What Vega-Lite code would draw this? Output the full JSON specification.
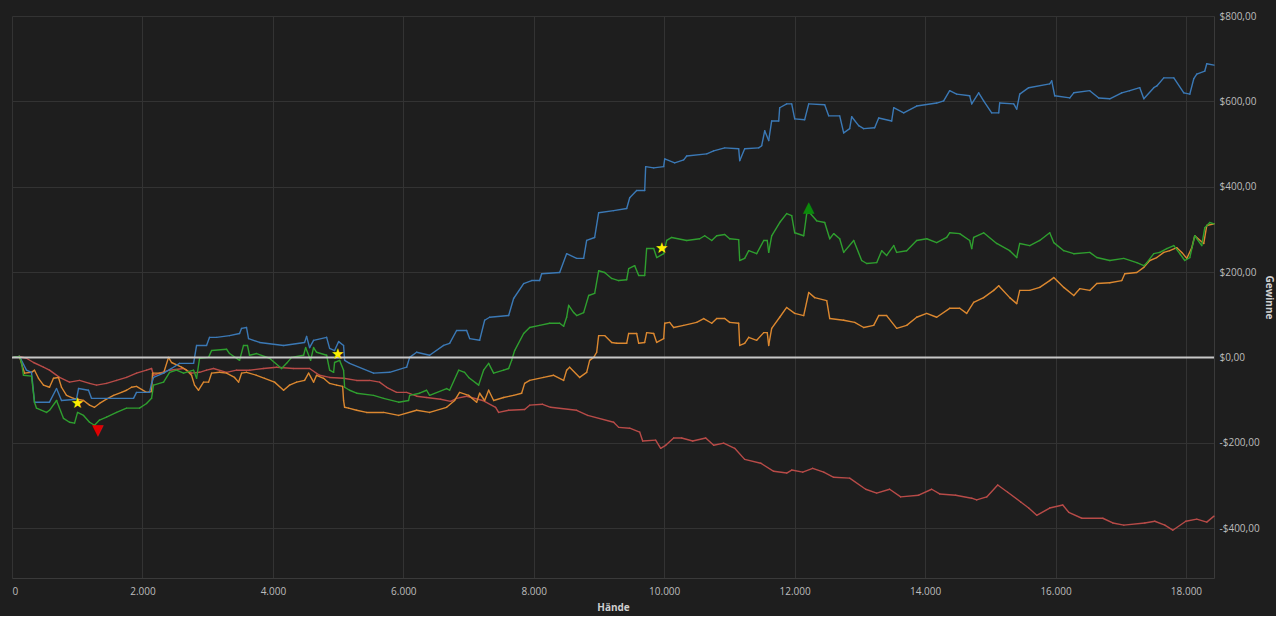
{
"$schema": "https://vega.github.io/schema/vega-lite/v6.json",
"width": 1202,
"height": 562,
"padding": {"left": 11, "top": 11, "right": 2, "bottom": 4},
"background": "#1e1e1e",
"config": {
  "view": {"stroke": null},
  "axis": {"labelColor": "#bdbdbd", "labelFont": "Open Sans", "labelFontSize": 10, "titleColor": "#cfcfcf", "titleFont": "Open Sans", "titleFontSize": 10, "titleFontWeight": "bold", "gridColor": "#333333", "domainColor": "#3a3a3a", "ticks": false}
},
"datasets": {
"pts": [
{"k":"1","h":23,"w":0},{"k":"1","h":115,"w":2},{"k":"1","h":222,"w":-2},{"k":"1","h":330,"w":-12},{"k":"1","h":483,"w":-23},{"k":"1","h":575,"w":-30},{"k":"1","h":729,"w":-47},{"k":"1","h":882,"w":-58},{"k":"1","h":1035,"w":-54},{"k":"1","h":1189,"w":-61},{"k":"1","h":1296,"w":-65},{"k":"1","h":1449,"w":-61},{"k":"1","h":1603,"w":-54},{"k":"1","h":1756,"w":-47},{"k":"1","h":1909,"w":-37},{"k":"1","h":2063,"w":-30},{"k":"1","h":2140,"w":-26},{"k":"1","h":2170,"w":-42},{"k":"1","h":2262,"w":-37},{"k":"1","h":2416,"w":-30},{"k":"1","h":2630,"w":-26},{"k":"1","h":2753,"w":-37},{"k":"1","h":2876,"w":-35},{"k":"1","h":2983,"w":-30},{"k":"1","h":3090,"w":-26},{"k":"1","h":3290,"w":-35},{"k":"1","h":3443,"w":-30},{"k":"1","h":3642,"w":-30},{"k":"1","h":3857,"w":-26},{"k":"1","h":4057,"w":-23},{"k":"1","h":4317,"w":-26},{"k":"1","h":4563,"w":-26},{"k":"1","h":4716,"w":-42},{"k":"1","h":4870,"w":-47},{"k":"1","h":5084,"w":-49},{"k":"1","h":5284,"w":-54},{"k":"1","h":5483,"w":-54},{"k":"1","h":5636,"w":-58},{"k":"1","h":5744,"w":-70},{"k":"1","h":5897,"w":-82},{"k":"1","h":6051,"w":-82},{"k":"1","h":6204,"w":-91},{"k":"1","h":6357,"w":-94},{"k":"1","h":6572,"w":-98},{"k":"1","h":6725,"w":-103},{"k":"1","h":6817,"w":-96},{"k":"1","h":6971,"w":-91},{"k":"1","h":7216,"w":-101},{"k":"1","h":7415,"w":-117},{"k":"1","h":7461,"w":-129},{"k":"1","h":7615,"w":-124},{"k":"1","h":7860,"w":-122},{"k":"1","h":7937,"w":-112},{"k":"1","h":8136,"w":-110},{"k":"1","h":8259,"w":-117},{"k":"1","h":8658,"w":-124},{"k":"1","h":8827,"w":-136},{"k":"1","h":9225,"w":-152},{"k":"1","h":9302,"w":-164},{"k":"1","h":9471,"w":-166},{"k":"1","h":9624,"w":-175},{"k":"1","h":9670,"w":-196},{"k":"1","h":9869,"w":-194},{"k":"1","h":9946,"w":-213},{"k":"1","h":10023,"w":-206},{"k":"1","h":10145,"w":-189},{"k":"1","h":10268,"w":-189},{"k":"1","h":10437,"w":-196},{"k":"1","h":10637,"w":-189},{"k":"1","h":10759,"w":-206},{"k":"1","h":10912,"w":-201},{"k":"1","h":11081,"w":-213},{"k":"1","h":11234,"w":-239},{"k":"1","h":11480,"w":-248},{"k":"1","h":11679,"w":-267},{"k":"1","h":11878,"w":-271},{"k":"1","h":11955,"w":-264},{"k":"1","h":12124,"w":-269},{"k":"1","h":12277,"w":-260},{"k":"1","h":12446,"w":-269},{"k":"1","h":12599,"w":-281},{"k":"1","h":12844,"w":-283},{"k":"1","h":13089,"w":-309},{"k":"1","h":13258,"w":-318},{"k":"1","h":13457,"w":-309},{"k":"1","h":13626,"w":-327},{"k":"1","h":13902,"w":-323},{"k":"1","h":14101,"w":-309},{"k":"1","h":14224,"w":-320},{"k":"1","h":14469,"w":-323},{"k":"1","h":14715,"w":-330},{"k":"1","h":14791,"w":-334},{"k":"1","h":14945,"w":-327},{"k":"1","h":15114,"w":-299},{"k":"1","h":15267,"w":-316},{"k":"1","h":15467,"w":-339},{"k":"1","h":15589,"w":-353},{"k":"1","h":15712,"w":-370},{"k":"1","h":15911,"w":-353},{"k":"1","h":16111,"w":-346},{"k":"1","h":16203,"w":-363},{"k":"1","h":16403,"w":-377},{"k":"1","h":16725,"w":-377},{"k":"1","h":16878,"w":-388},{"k":"1","h":17047,"w":-393},{"k":"1","h":17369,"w":-388},{"k":"1","h":17522,"w":-384},{"k":"1","h":17676,"w":-393},{"k":"1","h":17798,"w":-405},{"k":"1","h":17998,"w":-384},{"k":"1","h":18166,"w":-379},{"k":"1","h":18319,"w":-386},{"k":"1","h":18430,"w":-372},
{"k":"2","h":23,"w":0},{"k":"2","h":115,"w":2},{"k":"2","h":146,"w":-14},{"k":"2","h":192,"w":-37},{"k":"2","h":299,"w":-35},{"k":"2","h":345,"w":-30},{"k":"2","h":406,"w":-49},{"k":"2","h":483,"w":-65},{"k":"2","h":575,"w":-70},{"k":"2","h":636,"w":-49},{"k":"2","h":713,"w":-47},{"k":"2","h":759,"w":-70},{"k":"2","h":836,"w":-89},{"k":"2","h":943,"w":-96},{"k":"2","h":1097,"w":-101},{"k":"2","h":1189,"w":-112},{"k":"2","h":1265,"w":-117},{"k":"2","h":1342,"w":-108},{"k":"2","h":1449,"w":-98},{"k":"2","h":1557,"w":-89},{"k":"2","h":1679,"w":-82},{"k":"2","h":1756,"w":-77},{"k":"2","h":1833,"w":-70},{"k":"2","h":1909,"w":-68},{"k":"2","h":2063,"w":-82},{"k":"2","h":2140,"w":-80},{"k":"2","h":2155,"w":-37},{"k":"2","h":2324,"w":-37},{"k":"2","h":2400,"w":0},{"k":"2","h":2446,"w":-12},{"k":"2","h":2600,"w":-23},{"k":"2","h":2676,"w":-30},{"k":"2","h":2753,"w":-42},{"k":"2","h":2799,"w":-65},{"k":"2","h":2860,"w":-77},{"k":"2","h":2937,"w":-58},{"k":"2","h":3014,"w":-58},{"k":"2","h":3060,"w":-37},{"k":"2","h":3182,"w":-35},{"k":"2","h":3290,"w":-37},{"k":"2","h":3412,"w":-47},{"k":"2","h":3474,"w":-58},{"k":"2","h":3520,"w":-37},{"k":"2","h":3596,"w":-35},{"k":"2","h":3750,"w":-42},{"k":"2","h":3873,"w":-49},{"k":"2","h":4026,"w":-58},{"k":"2","h":4164,"w":-77},{"k":"2","h":4256,"w":-65},{"k":"2","h":4364,"w":-58},{"k":"2","h":4486,"w":-54},{"k":"2","h":4548,"w":-37},{"k":"2","h":4624,"w":-58},{"k":"2","h":4670,"w":-42},{"k":"2","h":4778,"w":-49},{"k":"2","h":4870,"w":-61},{"k":"2","h":4977,"w":-65},{"k":"2","h":5070,"w":-68},{"k":"2","h":5084,"w":-101},{"k":"2","h":5100,"w":-117},{"k":"2","h":5161,"w":-119},{"k":"2","h":5284,"w":-124},{"k":"2","h":5437,"w":-129},{"k":"2","h":5698,"w":-129},{"k":"2","h":5928,"w":-136},{"k":"2","h":6204,"w":-124},{"k":"2","h":6403,"w":-129},{"k":"2","h":6664,"w":-117},{"k":"2","h":6787,"w":-101},{"k":"2","h":6863,"w":-82},{"k":"2","h":7002,"w":-89},{"k":"2","h":7124,"w":-105},{"k":"2","h":7170,"w":-84},{"k":"2","h":7247,"w":-101},{"k":"2","h":7308,"w":-77},{"k":"2","h":7385,"w":-101},{"k":"2","h":7538,"w":-94},{"k":"2","h":7691,"w":-89},{"k":"2","h":7814,"w":-84},{"k":"2","h":7860,"w":-61},{"k":"2","h":7937,"w":-54},{"k":"2","h":8152,"w":-47},{"k":"2","h":8305,"w":-42},{"k":"2","h":8458,"w":-54},{"k":"2","h":8504,"w":-30},{"k":"2","h":8550,"w":-23},{"k":"2","h":8704,"w":-47},{"k":"2","h":8811,"w":-35},{"k":"2","h":8857,"w":-7},{"k":"2","h":8919,"w":0},{"k":"2","h":8965,"w":12},{"k":"2","h":8995,"w":51},{"k":"2","h":9087,"w":51},{"k":"2","h":9195,"w":35},{"k":"2","h":9271,"w":33},{"k":"2","h":9425,"w":33},{"k":"2","h":9455,"w":56},{"k":"2","h":9578,"w":56},{"k":"2","h":9609,"w":33},{"k":"2","h":9701,"w":35},{"k":"2","h":9731,"w":58},{"k":"2","h":9839,"w":56},{"k":"2","h":9885,"w":35},{"k":"2","h":9992,"w":44},{"k":"2","h":10008,"w":80},{"k":"2","h":10084,"w":82},{"k":"2","h":10145,"w":70},{"k":"2","h":10299,"w":75},{"k":"2","h":10498,"w":82},{"k":"2","h":10606,"w":91},{"k":"2","h":10729,"w":80},{"k":"2","h":10805,"w":91},{"k":"2","h":10928,"w":91},{"k":"2","h":11004,"w":82},{"k":"2","h":11142,"w":80},{"k":"2","h":11158,"w":28},{"k":"2","h":11234,"w":33},{"k":"2","h":11296,"w":47},{"k":"2","h":11418,"w":40},{"k":"2","h":11526,"w":58},{"k":"2","h":11580,"w":58},{"k":"2","h":11602,"w":28},{"k":"2","h":11648,"w":68},{"k":"2","h":11771,"w":94},{"k":"2","h":11878,"w":117},{"k":"2","h":12001,"w":103},{"k":"2","h":12139,"w":98},{"k":"2","h":12216,"w":152},{"k":"2","h":12308,"w":140},{"k":"2","h":12492,"w":133},{"k":"2","h":12538,"w":91},{"k":"2","h":12752,"w":87},{"k":"2","h":12921,"w":82},{"k":"2","h":13059,"w":70},{"k":"2","h":13212,"w":75},{"k":"2","h":13289,"w":98},{"k":"2","h":13411,"w":98},{"k":"2","h":13565,"w":68},{"k":"2","h":13718,"w":75},{"k":"2","h":13871,"w":94},{"k":"2","h":14025,"w":103},{"k":"2","h":14178,"w":94},{"k":"2","h":14377,"w":115},{"k":"2","h":14531,"w":115},{"k":"2","h":14638,"w":103},{"k":"2","h":14745,"w":129},{"k":"2","h":14898,"w":140},{"k":"2","h":15052,"w":157},{"k":"2","h":15129,"w":168},{"k":"2","h":15298,"w":140},{"k":"2","h":15405,"w":126},{"k":"2","h":15451,"w":157},{"k":"2","h":15605,"w":157},{"k":"2","h":15758,"w":164},{"k":"2","h":15911,"w":180},{"k":"2","h":15973,"w":187},{"k":"2","h":16127,"w":164},{"k":"2","h":16280,"w":145},{"k":"2","h":16372,"w":161},{"k":"2","h":16525,"w":157},{"k":"2","h":16633,"w":173},{"k":"2","h":16832,"w":175},{"k":"2","h":17016,"w":180},{"k":"2","h":17062,"w":196},{"k":"2","h":17246,"w":199},{"k":"2","h":17354,"w":211},{"k":"2","h":17446,"w":227},{"k":"2","h":17553,"w":234},{"k":"2","h":17660,"w":246},{"k":"2","h":17752,"w":250},{"k":"2","h":17860,"w":257},{"k":"2","h":17936,"w":246},{"k":"2","h":18013,"w":232},{"k":"2","h":18089,"w":257},{"k":"2","h":18135,"w":285},{"k":"2","h":18273,"w":267},{"k":"2","h":18319,"w":309},{"k":"2","h":18430,"w":313},
{"k":"3","h":23,"w":0},{"k":"3","h":115,"w":2},{"k":"3","h":222,"w":-30},{"k":"3","h":299,"w":-35},{"k":"3","h":345,"w":-105},{"k":"3","h":575,"w":-105},{"k":"3","h":683,"w":-73},{"k":"3","h":759,"w":-101},{"k":"3","h":989,"w":-98},{"k":"3","h":1020,"w":-73},{"k":"3","h":1173,"w":-77},{"k":"3","h":1219,"w":-96},{"k":"3","h":1863,"w":-96},{"k":"3","h":1909,"w":-82},{"k":"3","h":2109,"w":-82},{"k":"3","h":2140,"w":-61},{"k":"3","h":2170,"w":-47},{"k":"3","h":2324,"w":-37},{"k":"3","h":2446,"w":-26},{"k":"3","h":2569,"w":-14},{"k":"3","h":2784,"w":-14},{"k":"3","h":2830,"w":28},{"k":"3","h":2983,"w":28},{"k":"3","h":3029,"w":47},{"k":"3","h":3136,"w":47},{"k":"3","h":3336,"w":51},{"k":"3","h":3489,"w":56},{"k":"3","h":3520,"w":68},{"k":"3","h":3596,"w":70},{"k":"3","h":3627,"w":44},{"k":"3","h":3796,"w":35},{"k":"3","h":4164,"w":28},{"k":"3","h":4486,"w":35},{"k":"3","h":4517,"w":49},{"k":"3","h":4563,"w":23},{"k":"3","h":4624,"w":40},{"k":"3","h":4824,"w":47},{"k":"3","h":4870,"w":21},{"k":"3","h":4946,"w":16},{"k":"3","h":5008,"w":37},{"k":"3","h":5084,"w":28},{"k":"3","h":5100,"w":-7},{"k":"3","h":5176,"w":-14},{"k":"3","h":5544,"w":-37},{"k":"3","h":5790,"w":-35},{"k":"3","h":6051,"w":-23},{"k":"3","h":6097,"w":0},{"k":"3","h":6204,"w":12},{"k":"3","h":6403,"w":5},{"k":"3","h":6618,"w":28},{"k":"3","h":6710,"w":33},{"k":"3","h":6817,"w":63},{"k":"3","h":6971,"w":63},{"k":"3","h":7017,"w":44},{"k":"3","h":7170,"w":40},{"k":"3","h":7247,"w":87},{"k":"3","h":7323,"w":94},{"k":"3","h":7615,"w":98},{"k":"3","h":7691,"w":138},{"k":"3","h":7845,"w":173},{"k":"3","h":7968,"w":180},{"k":"3","h":8090,"w":180},{"k":"3","h":8121,"w":196},{"k":"3","h":8397,"w":199},{"k":"3","h":8504,"w":243},{"k":"3","h":8658,"w":232},{"k":"3","h":8765,"w":232},{"k":"3","h":8811,"w":274},{"k":"3","h":8934,"w":281},{"k":"3","h":8995,"w":339},{"k":"3","h":9225,"w":344},{"k":"3","h":9425,"w":349},{"k":"3","h":9471,"w":374},{"k":"3","h":9578,"w":391},{"k":"3","h":9701,"w":391},{"k":"3","h":9716,"w":447},{"k":"3","h":9839,"w":444},{"k":"3","h":9992,"w":447},{"k":"3","h":10008,"w":465},{"k":"3","h":10161,"w":456},{"k":"3","h":10299,"w":463},{"k":"3","h":10345,"w":472},{"k":"3","h":10652,"w":477},{"k":"3","h":10759,"w":484},{"k":"3","h":10928,"w":491},{"k":"3","h":11142,"w":489},{"k":"3","h":11158,"w":461},{"k":"3","h":11234,"w":489},{"k":"3","h":11449,"w":491},{"k":"3","h":11495,"w":496},{"k":"3","h":11541,"w":531},{"k":"3","h":11602,"w":508},{"k":"3","h":11648,"w":554},{"k":"3","h":11756,"w":554},{"k":"3","h":11771,"w":585},{"k":"3","h":11878,"w":594},{"k":"3","h":11955,"w":594},{"k":"3","h":12001,"w":559},{"k":"3","h":12154,"w":557},{"k":"3","h":12216,"w":594},{"k":"3","h":12461,"w":592},{"k":"3","h":12522,"w":566},{"k":"3","h":12691,"w":566},{"k":"3","h":12752,"w":526},{"k":"3","h":12844,"w":536},{"k":"3","h":12875,"w":564},{"k":"3","h":12982,"w":543},{"k":"3","h":13059,"w":536},{"k":"3","h":13227,"w":538},{"k":"3","h":13289,"w":561},{"k":"3","h":13488,"w":554},{"k":"3","h":13519,"w":585},{"k":"3","h":13672,"w":573},{"k":"3","h":13871,"w":589},{"k":"3","h":14178,"w":596},{"k":"3","h":14285,"w":601},{"k":"3","h":14377,"w":625},{"k":"3","h":14485,"w":617},{"k":"3","h":14684,"w":613},{"k":"3","h":14715,"w":594},{"k":"3","h":14822,"w":620},{"k":"3","h":14898,"w":601},{"k":"3","h":15021,"w":573},{"k":"3","h":15129,"w":573},{"k":"3","h":15144,"w":596},{"k":"3","h":15359,"w":594},{"k":"3","h":15405,"w":582},{"k":"3","h":15451,"w":617},{"k":"3","h":15589,"w":632},{"k":"3","h":15911,"w":641},{"k":"3","h":15942,"w":648},{"k":"3","h":15988,"w":613},{"k":"3","h":16219,"w":608},{"k":"3","h":16280,"w":620},{"k":"3","h":16525,"w":625},{"k":"3","h":16663,"w":608},{"k":"3","h":16832,"w":606},{"k":"3","h":17016,"w":620},{"k":"3","h":17139,"w":625},{"k":"3","h":17292,"w":632},{"k":"3","h":17354,"w":606},{"k":"3","h":17507,"w":632},{"k":"3","h":17553,"w":636},{"k":"3","h":17660,"w":655},{"k":"3","h":17814,"w":655},{"k":"3","h":17967,"w":620},{"k":"3","h":18059,"w":617},{"k":"3","h":18120,"w":653},{"k":"3","h":18166,"w":664},{"k":"3","h":18289,"w":671},{"k":"3","h":18319,"w":688},{"k":"3","h":18430,"w":685},
{"k":"4","h":23,"w":0},{"k":"4","h":115,"w":2},{"k":"4","h":146,"w":-12},{"k":"4","h":176,"w":-42},{"k":"4","h":299,"w":-44},{"k":"4","h":345,"w":-105},{"k":"4","h":376,"w":-119},{"k":"4","h":529,"w":-129},{"k":"4","h":575,"w":-124},{"k":"4","h":683,"w":-101},{"k":"4","h":790,"w":-143},{"k":"4","h":882,"w":-152},{"k":"4","h":959,"w":-154},{"k":"4","h":1005,"w":-129},{"k":"4","h":1097,"w":-136},{"k":"4","h":1189,"w":-152},{"k":"4","h":1265,"w":-159},{"k":"4","h":1342,"w":-147},{"k":"4","h":1449,"w":-140},{"k":"4","h":1603,"w":-129},{"k":"4","h":1756,"w":-119},{"k":"4","h":1955,"w":-119},{"k":"4","h":2063,"w":-108},{"k":"4","h":2140,"w":-96},{"k":"4","h":2170,"w":-65},{"k":"4","h":2324,"w":-58},{"k":"4","h":2416,"w":-35},{"k":"4","h":2523,"w":-30},{"k":"4","h":2630,"w":-37},{"k":"4","h":2784,"w":-30},{"k":"4","h":2830,"w":-49},{"k":"4","h":2876,"w":-2},{"k":"4","h":3014,"w":0},{"k":"4","h":3060,"w":16},{"k":"4","h":3290,"w":19},{"k":"4","h":3336,"w":9},{"k":"4","h":3489,"w":-7},{"k":"4","h":3550,"w":28},{"k":"4","h":3610,"w":28},{"k":"4","h":3642,"w":5},{"k":"4","h":3750,"w":9},{"k":"4","h":3949,"w":-2},{"k":"4","h":4133,"w":-26},{"k":"4","h":4210,"w":-14},{"k":"4","h":4287,"w":0},{"k":"4","h":4471,"w":5},{"k":"4","h":4502,"w":23},{"k":"4","h":4578,"w":-7},{"k":"4","h":4624,"w":23},{"k":"4","h":4670,"w":12},{"k":"4","h":4824,"w":5},{"k":"4","h":4870,"w":-30},{"k":"4","h":4931,"w":-35},{"k":"4","h":4946,"w":-12},{"k":"4","h":5023,"w":-7},{"k":"4","h":5084,"w":-30},{"k":"4","h":5100,"w":-70},{"k":"4","h":5176,"w":-77},{"k":"4","h":5284,"w":-84},{"k":"4","h":5544,"w":-89},{"k":"4","h":5698,"w":-96},{"k":"4","h":5928,"w":-105},{"k":"4","h":6081,"w":-101},{"k":"4","h":6097,"w":-89},{"k":"4","h":6250,"w":-84},{"k":"4","h":6357,"w":-77},{"k":"4","h":6403,"w":-89},{"k":"4","h":6664,"w":-73},{"k":"4","h":6710,"w":-77},{"k":"4","h":6848,"w":-30},{"k":"4","h":6940,"w":-35},{"k":"4","h":7002,"w":-47},{"k":"4","h":7155,"w":-65},{"k":"4","h":7231,"w":-30},{"k":"4","h":7308,"w":-14},{"k":"4","h":7385,"w":-37},{"k":"4","h":7538,"w":-30},{"k":"4","h":7615,"w":-26},{"k":"4","h":7661,"w":-7},{"k":"4","h":7707,"w":16},{"k":"4","h":7845,"w":56},{"k":"4","h":7937,"w":70},{"k":"4","h":8090,"w":75},{"k":"4","h":8244,"w":80},{"k":"4","h":8397,"w":80},{"k":"4","h":8458,"w":73},{"k":"4","h":8504,"w":94},{"k":"4","h":8535,"w":122},{"k":"4","h":8612,"w":105},{"k":"4","h":8658,"w":98},{"k":"4","h":8765,"w":105},{"k":"4","h":8842,"w":145},{"k":"4","h":8934,"w":150},{"k":"4","h":8995,"w":203},{"k":"4","h":9087,"w":199},{"k":"4","h":9195,"w":185},{"k":"4","h":9302,"w":180},{"k":"4","h":9425,"w":182},{"k":"4","h":9455,"w":208},{"k":"4","h":9547,"w":215},{"k":"4","h":9609,"w":192},{"k":"4","h":9701,"w":192},{"k":"4","h":9731,"w":255},{"k":"4","h":9839,"w":255},{"k":"4","h":9885,"w":234},{"k":"4","h":9992,"w":243},{"k":"4","h":10038,"w":274},{"k":"4","h":10115,"w":281},{"k":"4","h":10345,"w":274},{"k":"4","h":10544,"w":278},{"k":"4","h":10621,"w":285},{"k":"4","h":10729,"w":274},{"k":"4","h":10805,"w":285},{"k":"4","h":10928,"w":288},{"k":"4","h":11004,"w":278},{"k":"4","h":11142,"w":276},{"k":"4","h":11158,"w":227},{"k":"4","h":11234,"w":232},{"k":"4","h":11296,"w":250},{"k":"4","h":11418,"w":243},{"k":"4","h":11526,"w":274},{"k":"4","h":11580,"w":274},{"k":"4","h":11602,"w":246},{"k":"4","h":11648,"w":285},{"k":"4","h":11771,"w":316},{"k":"4","h":11878,"w":337},{"k":"4","h":11955,"w":332},{"k":"4","h":12001,"w":292},{"k":"4","h":12139,"w":285},{"k":"4","h":12185,"w":337},{"k":"4","h":12231,"w":339},{"k":"4","h":12338,"w":320},{"k":"4","h":12461,"w":316},{"k":"4","h":12538,"w":278},{"k":"4","h":12599,"w":290},{"k":"4","h":12691,"w":278},{"k":"4","h":12752,"w":246},{"k":"4","h":12906,"w":274},{"k":"4","h":13028,"w":227},{"k":"4","h":13105,"w":220},{"k":"4","h":13258,"w":222},{"k":"4","h":13335,"w":250},{"k":"4","h":13411,"w":239},{"k":"4","h":13519,"w":262},{"k":"4","h":13565,"w":246},{"k":"4","h":13718,"w":250},{"k":"4","h":13871,"w":274},{"k":"4","h":14025,"w":278},{"k":"4","h":14178,"w":269},{"k":"4","h":14331,"w":281},{"k":"4","h":14377,"w":292},{"k":"4","h":14531,"w":290},{"k":"4","h":14684,"w":274},{"k":"4","h":14715,"w":255},{"k":"4","h":14745,"w":281},{"k":"4","h":14898,"w":292},{"k":"4","h":15098,"w":267},{"k":"4","h":15298,"w":250},{"k":"4","h":15405,"w":234},{"k":"4","h":15451,"w":267},{"k":"4","h":15605,"w":262},{"k":"4","h":15758,"w":274},{"k":"4","h":15911,"w":292},{"k":"4","h":15973,"w":269},{"k":"4","h":16127,"w":250},{"k":"4","h":16280,"w":243},{"k":"4","h":16525,"w":246},{"k":"4","h":16633,"w":234},{"k":"4","h":16832,"w":227},{"k":"4","h":17047,"w":232},{"k":"4","h":17246,"w":222},{"k":"4","h":17354,"w":215},{"k":"4","h":17400,"w":222},{"k":"4","h":17507,"w":243},{"k":"4","h":17599,"w":246},{"k":"4","h":17706,"w":255},{"k":"4","h":17814,"w":262},{"k":"4","h":17906,"w":243},{"k":"4","h":17982,"w":227},{"k":"4","h":18059,"w":234},{"k":"4","h":18135,"w":285},{"k":"4","h":18242,"w":262},{"k":"4","h":18289,"w":304},{"k":"4","h":18365,"w":316},{"k":"4","h":18430,"w":313}
],
"marks": [
{"m":"★","c":"star","h":1005,"w":-108},{"m":"★","c":"star","h":4993,"w":7},{"m":"★","c":"star","h":9962,"w":257},{"m":"▼","c":"down","h":1311,"w":-171},{"m":"▲","c":"up","h":12216,"w":353}
]
},
"layer": [
  {
    "data": {"name": "pts"},
    "transform": [
      {"window": [{"op": "lead", "field": "h", "as": "h2"}, {"op": "lead", "field": "w", "as": "w2"}], "groupby": ["k"], "sort": [{"field": "h", "order": "ascending"}]},
      {"filter": "datum.h2 != null"}
    ],
    "mark": {"type": "rule", "strokeWidth": 1.4, "strokeCap": "round"},
    "encoding": {
      "x": {"field": "h", "type": "quantitative", "scale": {"domain": [0, 18430], "nice": false, "zero": false},
            "axis": {"title": "Hände", "values": [0, 2000, 4000, 6000, 8000, 10000, 12000, 14000, 16000, 18000], "labelExpr": "replace(format(datum.value, ','), ',', '.')", "labelPadding": 8, "titlePadding": 6, "grid": true}},
      "x2": {"field": "h2"},
      "y": {"field": "w", "type": "quantitative", "scale": {"domain": [-517, 800], "nice": false, "zero": false},
            "axis": {"orient": "right", "title": "Gewinne", "values": [-400, -200, 0, 200, 400, 600, 800], "labelExpr": "(datum.value < 0 ? '-$' : '$') + replace(format(abs(datum.value), '.2f'), '.', ',')", "labelPadding": 5, "titlePadding": 4, "grid": true}},
      "y2": {"field": "w2"},
      "color": {"field": "k", "type": "nominal", "scale": {"domain": ["1", "2", "3", "4"], "range": ["#b84b48", "#dc8830", "#3b79b6", "#2f9f2f"]}, "legend": null}
    }
  },
  {
    "data": {"values": [{"w": 0}]},
    "mark": {"type": "rule", "color": "#c8c8c8", "strokeWidth": 2},
    "encoding": {"y": {"field": "w", "type": "quantitative"}}
  },
  {
    "data": {"name": "marks"},
    "mark": {"type": "text", "font": "DejaVu Sans", "align": "center", "baseline": "middle", "fontSize": 15},
    "encoding": {
      "x": {"field": "h", "type": "quantitative"},
      "y": {"field": "w", "type": "quantitative"},
      "text": {"field": "m"},
      "color": {"field": "c", "type": "nominal", "scale": {"domain": ["star", "down", "up"], "range": ["#ffee00", "#e00000", "#0a8a0a"]}, "legend": null}
    }
  }
],
"resolve": {"scale": {"color": "independent"}}
}
